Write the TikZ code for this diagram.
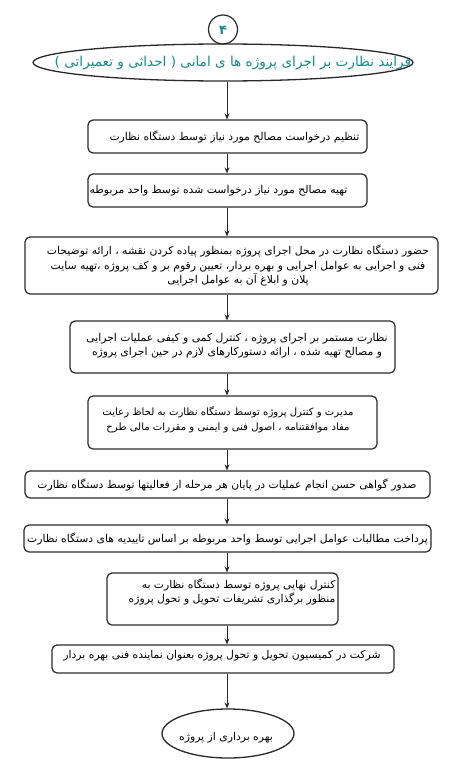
\documentclass[tikz,border=0pt]{standalone}
\usepackage{fontspec}
\newfontfamily\fa[Script=Arabic]{DejaVu Sans}
\TeXXeTstate=1
\usetikzlibrary{shapes.geometric,arrows.meta}
\newcommand\RL[1]{\beginR #1\endR}
\definecolor{teal1}{HTML}{168A8C}
\definecolor{line1}{HTML}{2A2A2A}
\begin{document}
\begin{tikzpicture}[x=1pt,y=-1pt,
  box/.style={draw=line1, line width=1.2pt, rounded corners=5pt, inner sep=0pt},
  txt/.style={font=\fa\fontsize{10.8}{14.5}\selectfont, inner sep=0pt, align=center, text=black},
  ttl/.style={font=\fa\fontsize{13.6}{14}\selectfont, inner sep=0pt, text=teal1},
  oval/.style={draw=line1, line width=1.3pt, ellipse, inner sep=0pt},
  arr/.style={-{Stealth[length=6pt,width=5pt]}, line width=1pt, draw=line1}]
\useasboundingbox (0,0) rectangle (471,768);
\fill[white] (0,0) rectangle (471,768);
\coordinate (ax) at (227,0);
% number circle
\node[draw=line1, line width=1.2pt, circle, minimum size=29pt, inner sep=0pt] (num) at (223,29.5) {};
\node[ttl, font=\fa\bfseries\fontsize{13}{13}\selectfont] (numt) at (223,30) {\RL{۴}};
% title
\node[oval, minimum width=380pt, minimum height=37pt] (title) at (223,62.5) {};
\node[ttl] (titlet) at (233,62.5) {\RL{فرایند نظارت بر اجرای پروژه ها ی امانی ( احداثی و تعمیراتی )}};
% boxes
\node[box, minimum width=279pt, minimum height=33pt] (b1) at (227.5,136.5) {};
\node[txt, anchor=east] (t1) at ([xshift=-8pt]b1.east) {\RL{تنظیم درخواست مصالح مورد نیاز توسط دستگاه نظارت}};
\node[box, minimum width=279pt, minimum height=33pt] (b2) at (227.5,190.5) {};
\node[txt, anchor=west] (t2) at ([xshift=2pt]b2.west) {\RL{تهیه مصالح مورد نیاز درخواست شده توسط واحد مربوطه}};
\node[box, minimum width=413pt, minimum height=57pt] (b3) at (231.5,265.5) {};
\node[txt] (t3) at (238,265.5) {\RL{حضور دستگاه نظارت در محل اجرای پروژه بمنظور پیاده کردن نقشه ، ارائه توضیحات}\\
\RL{فنی و اجرایی به عوامل اجرایی و بهره بردار، تعیین رقوم بر و کف پروژه ،تهیه سایت}\\
\RL{پلان و ابلاغ آن به عوامل اجرایی}};
\node[box, minimum width=325pt, minimum height=52pt] (b4) at (232.5,347) {};
\node[txt] (t4) at (237,345.5) {\RL{نظارت مستمر بر اجرای پروژه ، کنترل کمی و کیفی عملیات اجرایی}\\
\RL{و مصالح تهیه شده ، ارائه دستورکارهای لازم در حین اجرای پروژه}};
\node[box, minimum width=289pt, minimum height=53pt] (b5) at (232.5,422.5) {};
\node[txt, font=\fa\fontsize{10.1}{14.5}\selectfont] (t5) at (228,419.5) {\RL{مدیرت و کنترل پروژه توسط دستگاه نظارت به لحاظ رعایت}\\
\RL{مفاد موافقتنامه ، اصول فنی و ایمنی و مقررات مالی طرح}};
\node[box, minimum width=405pt, minimum height=27pt] (b6) at (227.5,484.5) {};
\node[txt] (t6) at (227,484.5) {\RL{صدور گواهی حسن انجام عملیات در پایان هر مرحله از فعالیتها توسط دستگاه نظارت}};
\node[box, minimum width=407pt, minimum height=27pt] (b7) at (227.5,538.5) {};
\node[txt] (t7) at (227.5,538.5) {\RL{پرداخت مطالبات عوامل اجرایی توسط واحد مربوطه بر اساس تاییدیه های دستگاه نظارت}};
\node[box, minimum width=231pt, minimum height=52pt] (b8) at (222.5,599) {};
\node[txt, align=right, anchor=east] (t8) at ([xshift=-3pt,yshift=7pt]b8.east) {\RL{کنترل نهایی پروژه توسط دستگاه نظارت به}\\
\RL{منظور برگذاری تشریفات تحویل و تحول پروژه}};
\node[box, minimum width=342pt, minimum height=28pt] (b9) at (223,659) {};
\node[txt] (t9) at (222,656) {\RL{شرکت در کمیسیون تحویل و تحول پروژه بعنوان نماینده فنی بهره بردار}};
\node[oval, minimum width=132pt, minimum height=49pt] (end) at (228,733.5) {};
\node[txt] (tend) at (226,738) {\RL{بهره برداری از پروژه}};
% arrows
\draw[arr] (title.south -| ax) -- (b1.north -| ax);
\draw[arr] (b1.south -| ax) -- (b2.north -| ax);
\draw[arr] (b2.south -| ax) -- (b3.north -| ax);
\draw[arr] (b3.south -| ax) -- (b4.north -| ax);
\draw[arr] (b4.south -| ax) -- (b5.north -| ax);
\draw[arr] (b5.south -| ax) -- (b6.north -| ax);
\draw[arr] (b6.south -| ax) -- (b7.north -| ax);
\draw[arr] (b7.south -| ax) -- (b8.north -| ax);
\draw[arr] (b8.south -| ax) -- (b9.north -| ax);
\draw[arr] (b9.south -| ax) -- (end.north -| ax);
\end{tikzpicture}
\end{document}
